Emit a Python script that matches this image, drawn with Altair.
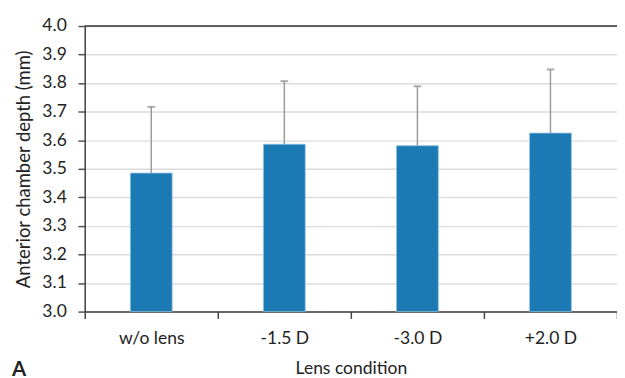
import altair as alt
import pandas as pd

conditions = ["w/o lens", "-1.5 D", "-3.0 D", "+2.0 D"]
means = [3.485, 3.586, 3.581, 3.625]
sds = [0.232, 0.221, 0.208, 0.223]
y_ticks = [3.0, 3.1, 3.2, 3.3, 3.4, 3.5, 3.6, 3.7, 3.8, 3.9, 4.0]

df = pd.DataFrame({
    "cond": conditions,
    "mean": means,
    "upper": [m + s for m, s in zip(means, sds)],
})

FONT = "Lato"
TXT = "#222222"

x_axis = alt.Axis(
    labelAngle=0, labelFont=FONT, labelFontSize=18, labelColor=TXT,
    labelPadding=12, titleFont=FONT, titleFontSize=18, titleColor=TXT,
    titleFontWeight="normal", titlePadding=13, tickBand="extent",
    tickColor="#404040", tickSize=7, tickWidth=1.5,
    domainColor="#404040", domainWidth=1.5, grid=False,
)
y_axis = alt.Axis(
    values=y_ticks, format=".1f", labelFont=FONT, labelFontSize=18,
    labelColor=TXT, labelPadding=12, tickSize=7, tickColor="#505050",
    tickWidth=1.5, gridColor="#dcdcdc", gridWidth=1.5,
    domainColor="#404040", domainWidth=1.5,
    titleFont=FONT, titleFontSize=19, titleColor=TXT,
    titleFontWeight="normal", titlePadding=9,
)
y_scale = alt.Scale(domain=[3.0, 4.0], nice=False, zero=False)


def X():
    return alt.X("cond:N", sort=conditions, title="Lens condition",
                 scale=alt.Scale(paddingInner=0, paddingOuter=0), axis=x_axis)


def Y(field):
    return alt.Y(field, scale=y_scale, title="Anterior chamber depth (mm)", axis=y_axis)


base = alt.Chart(df)

bars = base.mark_bar(size=43, color="#1B7AB4", stroke="#8cc0e0", strokeWidth=0.8).encode(
    x=X(), y=Y("mean:Q"), y2=alt.datum(3.0)
)
err = base.mark_rule(color="#9a9a9a", strokeWidth=1.5).encode(
    x=X(), y=Y("mean:Q"), y2="upper:Q"
)
caps = base.mark_tick(color="#8a8a8a", size=8, thickness=2, orient="horizontal").encode(
    x=X(), y=Y("upper:Q")
)
ref_df = pd.DataFrame({"v": [4.0]})
top_line = alt.Chart(ref_df).mark_rule(color="#333333", strokeWidth=1.5).encode(
    y=Y("v:Q")
)
lab_df = pd.DataFrame({"t": ["A"]})
panel = alt.Chart(lab_df).mark_text(
    font=FONT, fontSize=21, fontWeight="bold", color="#222222", align="left", baseline="alphabetic"
).encode(text="t:N", x=alt.value(-75), y=alt.value(360))

chart = alt.layer(bars, err, caps, top_line, panel).properties(
    width=548, height=294,
    padding={"left": 79, "top": 13, "right": 0, "bottom": 70},
    autosize=alt.AutoSizeParams(type="none"),
).configure_view(stroke=None).configure(background="white")

chart.save("out.html", embed_options={"renderer": "svg", "actions": False})
